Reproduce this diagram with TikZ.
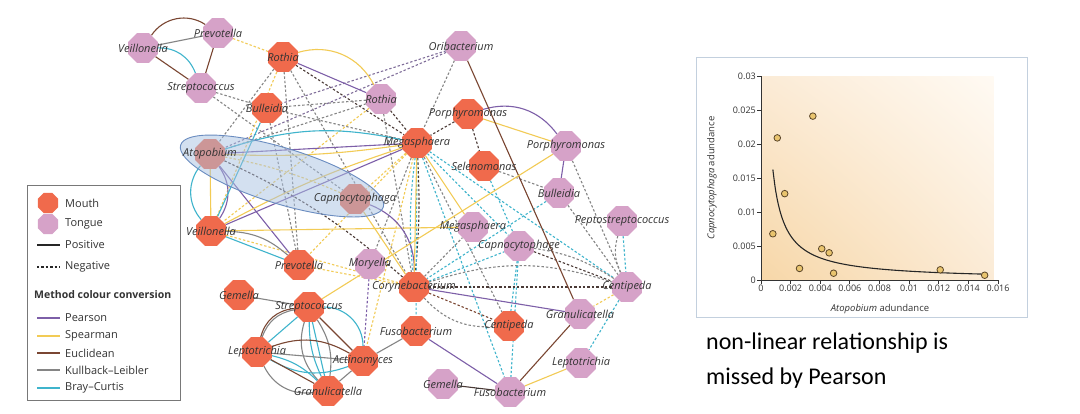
\documentclass[tikz,border=0pt]{standalone}
\usepackage{fontspec}
\setmainfont{Open Sans}
\newfontfamily\calib{Carlito}
\usetikzlibrary{shapes.geometric,shadings}
\pgfdeclarelayer{bg}\pgfsetlayers{bg,main}
\definecolor{mouthc}{HTML}{F06A4C}
\definecolor{tonguec}{HTML}{D6A2C8}
\definecolor{pear}{HTML}{7D5FA8}
\definecolor{spear}{HTML}{F2CB55}
\definecolor{eucl}{HTML}{7A4632}
\definecolor{kl}{HTML}{858585}
\definecolor{bray}{HTML}{3FB4CC}
\definecolor{dkd}{HTML}{4A3A36}
\definecolor{lbl}{HTML}{333333}
\definecolor{ellf}{HTML}{A9C2E2}
\definecolor{elld}{HTML}{6A8CC0}
\definecolor{shA}{HTML}{F7D7A8}
\definecolor{shB}{HTML}{FBEBD6}
\definecolor{shC}{HTML}{FFFAF3}
\definecolor{ptf}{HTML}{E9C46E}
\definecolor{ptd}{HTML}{5A4528}
\definecolor{frm}{HTML}{C3D0DE}
\tikzset{
  mouth/.style={regular polygon, regular polygon sides=8, minimum size=32pt, inner sep=0pt, fill=mouthc, draw=none},
  tongue/.style={regular polygon, regular polygon sides=8, minimum size=32pt, inner sep=0pt, fill=tonguec, draw=none},
  nlab/.style={font=\fontsize{11}{13}\selectfont\itshape, text=lbl, inner sep=0pt},
  every label/.style={nlab},
  se/.style={line width=1.1pt},
  de/.style={line width=1.1pt, dash pattern=on 2.4pt off 2pt},
  legtxt/.style={font=\fontsize{11}{13}\selectfont, text=lbl, anchor=west, inner sep=0pt},
  tick/.style={font=\fontsize{9}{10}\selectfont, text=lbl, inner sep=1pt},
}
\begin{document}
\begin{tikzpicture}[x=1pt,y=-1pt]
\useasboundingbox (0,0) rectangle (1080,413);
% ---------- tongue nodes
\node[tongue, label={center:Veillonella}] (vT) at (143,48) {};
\node[tongue, label={center:Prevotella}] (pT) at (218,33) {};
\node[tongue, label={center:Streptococcus}] (sT) at (201,88) {};
\node[tongue, label={center:Rothia}] (rT) at (381,99) {};
\node[tongue, label={center:Oribacterium}] (oT) at (461,46) {};
\node[tongue, label={center:Porphyromonas}] (phT) at (566,146) {};
\node[tongue, label={center:Bulleidia}] (bT) at (559,193) {};
\node[tongue, label={center:Peptostreptococcus}] (psT) at (622,221) {};
\node[tongue, label={center:Megasphaera}] (mT) at (473,227) {};
\node[tongue, label={center:Capnocytophage}] (cT) at (519,246) {};
\node[tongue, label={center:Centipeda}] (ceT) at (627,287) {};
\node[tongue, label={center:Granulicatella}] (gT) at (580,314) {};
\node[tongue, label={center:Leptotrichia}] (lT) at (581,363) {};
\node[tongue, label={center:Fusobacterium}] (fT) at (510,392) {};
\node[tongue, label={center:Gemella}] (geT) at (443,384) {};
\node[tongue, label={center:Moryella}] (moT) at (370,264) {};
% ---------- mouth nodes
\node[mouth, label={center:Rothia}] (rM) at (283,57) {};
\node[mouth, label={center:Bulleidia}] (bM) at (267,108) {};
\node[mouth, label={center:Porphyromonas}] (phM) at (468,114) {};
\node[mouth, label={center:Megasphaera}] (mM) at (417,143) {};
\node[mouth, label={center:Selenomonas}] (seM) at (484,166) {};
\node[mouth] (aM) at (210,154) {};
\node[mouth] (cM) at (355,199) {};
\node[mouth, label={center:Veillonella}] (vM) at (211,231) {};
\node[mouth, label={center:Prevotella}] (pM) at (299,265) {};
\node[mouth, label={center:Corynebacterium}] (coM) at (414,287) {};
\node[mouth, label={center:Gemella}] (geM) at (239,295) {};
\node[mouth, label={center:Streptococcus}] (sM) at (309,307) {};
\node[mouth, label={center:Leptotrichia}] (lM) at (257,352) {};
\node[mouth, label={center:Actinomyces}] (acM) at (363,361) {};
\node[mouth, label={center:Granulicatella}] (gM) at (328,391) {};
\node[mouth, label={center:Fusobacterium}] (fM) at (416,331) {};
\node[mouth, label={center:Centipeda}] (ceM) at (509,326) {};
% ---------- connectors
\begin{pgfonlayer}{bg}
\fill[white] (0,0) rectangle (1080,413);
% negative (dashed)
\draw[de, spear] (pT) -- (rM);
\draw[de, kl] (sT) -- (bM);
\draw[de, kl] (sT) -- (cM);
\draw[de, dkd] (rM) -- (mM);
\draw[de, kl] (rM) -- (aM);
\draw[de, spear] (rM) -- (vM);
\draw[de, kl] (rM) -- (pM);
\draw[de, kl] (rM) -- (coM);
\draw[de, kl] (rT) -- (aM);
\draw[de, spear] (rT) -- (vM);
\draw[de, kl] (rT) -- (bM);
\draw[de, kl] (rT) -- (coM);
\draw[de, dkd] (rT) -- (mM);
\draw[de, pear!60!kl] (oT) -- (bM);
\draw[de, pear!60!kl] (oT) -- (aM);
\draw[de, kl] (oT) -- (mM);
\draw[de, dkd] (phM) -- (mM);
\draw[de, dkd] (phM) -- (seM);
\draw[de, kl] (bM) -- (mM);
\draw[de, kl] (bM) -- (pM);
\draw[de, dkd] (mM) to[bend left=4] (coM);
\draw[de, bray] (mM) to[bend right=6] (coM);
\draw[de, bray] (mM) -- (fM);
\draw[de, bray] (mM) -- (fT);
\draw[de, kl] (mM) -- (ceM);
\draw[de, bray] (mM) -- (cT);
\draw[de, spear] (mM) -- (acM);
\draw[de, kl] (mM) -- (moT);
\draw[de, spear] (mM) -- (pM);
\draw[de, spear] (mM) -- (cM);
\draw[de, bray] (mM) -- (ceT);
\draw[de, kl] (seM) -- (bT);
\draw[de, bray] (seM) -- (cT);
\draw[de, bray] (bT) -- (coM);
\draw[de, kl] (bT) -- (ceT);
\draw[de, kl] (phT) -- (ceT);
\draw[de, bray] (psT) -- (ceT);
\draw[de, kl] (psT) to[bend right=20] (ceT);
\draw[de, kl] (cT) to[bend left=12] (ceT);
\draw[de, dkd] (cT) -- (ceT);
\draw[de, bray] (cT) -- (fT);
\draw[de, bray] (cT) -- (ceM);
\draw[de, bray] (coM) -- (cT);
\draw[de, dkd] (coM) -- (ceT);
\draw[de, kl] (coM) to[bend left=18] (ceT);
\draw[de, kl] (coM) to[bend right=25] (ceM);
\draw[de, eucl] (coM) -- (ceM);
\draw[de, kl] (coM) -- (mT);
\draw[de, bray] (ceT) -- (lT);
\draw[de, spear] (ceT) -- (gT);
\draw[de, pear] (moT) -- (acM);
\draw[de, dkd] (aM) to[bend left=8] (coM);
\draw[de, spear] (pM) -- (coM);
\draw[de, spear] (vM) -- (coM);
\draw[de, spear] (aM) to[bend left=6] (cM);
% positive (solid)
\draw[se, kl] (vT) -- (pT);
\draw[se, eucl] (vT) to[bend left=45] (pT);
\draw[se, eucl] (vT) -- (sT);
\draw[se, bray] (vT) to[bend left=35] (sT);
\draw[se, eucl] (pT) -- (sT);
\draw[se, pear] (rM) -- (rT);
\draw[se, spear] (rM) to[bend left=40] (rT);
\draw[se, spear] (phM) -- (phT);
\draw[se, pear] (phM) to[bend left=35] (phT);
\draw[se, pear] (phT) -- (bT);
\draw[se, eucl] (oT) -- (gT);
\draw[se, pear] (aM) -- (mM);
\draw[se, bray] (aM) to[bend left=15] (mM);
\draw[se, spear] (aM) to[bend right=5] (mM);
\draw[se, spear] (aM) -- (vM);
\draw[se, bray] (aM) to[bend right=40] (vM);
\draw[se, pear] (aM) to[bend left=35] (vM);
\draw[se, pear] (aM) -- (pM);
\draw[se, pear] (vM) -- (mM);
\draw[se, spear] (vM) to[bend left=5] (mM);
\draw[se, spear] (vM) -- (mT);
\draw[se, bray] (vM) -- (pM);
\draw[se, bray] (vM) -- (bM);
\draw[se, kl] (vM) to[bend left=20] (pM);
\draw[se, spear] (cM) -- (coM);
\draw[se, pear] (cM) to[bend left=35] (coM);
\draw[se, spear] (mM) -- (coM);
\draw[se, spear] (mM) -- (mT);
\draw[se, spear] (phT) -- (sM);
\draw[se, pear] (coM) -- (gT);
\draw[se, pear] (fM) -- (fT);
\draw[se, kl] (fM) -- (acM);
\draw[se, eucl] (gT) -- (fT);
\draw[se, spear] (lT) -- (fT);
\draw[se, dkd] (geT) -- (fT);
\draw[se, kl] (geM) -- (sM);
\draw[se, eucl] (sM) to[bend right=35] (lM);
\draw[se, bray] (sM) -- (lM);
\draw[se, eucl] (sM) -- (acM);
\draw[se, bray] (sM) to[bend left=45] (acM);
\draw[se, bray] (sM) -- (gM);
\draw[se, bray] (sM) to[bend right=12] (gM);
\draw[se, kl] (sM) to[bend right=30] (gM);
\draw[se, kl] (sM) to[bend left=20] (gM);
\draw[se, eucl] (lM) to[bend left=25] (acM);
\draw[se, kl] (lM) -- (acM);
\draw[se, bray] (lM) to[bend right=25] (acM);
\draw[se, eucl] (lM) -- (gM);
\draw[se, kl] (lM) to[bend right=35] (gM);
\draw[se, bray] (lM) to[bend left=15] (gM);
\draw[se, kl] (acM) -- (gM);
\draw[se, kl] (lM) to[bend left=30] (sM);
\end{pgfonlayer}
% highlight ellipse
\draw[fill=ellf, fill opacity=0.5, draw=elld, line width=0.9pt, rotate around={-17:(282,176)}] (282,176) ellipse [x radius=106pt, y radius=28pt];
\node[nlab] (aMl) at (aM) {Atopobium};
\node[nlab] (cMl) at (cM) {Capnocytophaga};
% ---------- legend
\draw[kl!90!black, line width=0.9pt] (27,185) rectangle (180,400);
\node[mouth, minimum size=22pt] (lgm) at (48,203) {};
\node[tongue, minimum size=22pt] (lgt) at (48,224) {};
\node[legtxt] (lgmt) at (65,203) {Mouth};
\node[legtxt] (lgtt) at (65,224) {Tongue};
\draw[line width=1.2pt, black!85] (37,245) -- (60,245);
\node[legtxt] (lgp) at (65,245) {Positive};
\draw[line width=1.2pt, black!85, dash pattern=on 2.4pt off 2pt] (37,267) -- (60,267);
\node[legtxt] (lgn) at (65,267) {Negative};
\node[legtxt, font=\fontsize{10.5}{12}\selectfont\bfseries] (lgh) at (34,295) {Method colour conversion};
\draw[line width=1.2pt, pear] (37,318) -- (60,318);
\node[legtxt] (l1) at (65,318) {Pearson};
\draw[line width=1.2pt, spear] (37,336) -- (60,336);
\node[legtxt] (l2) at (65,336) {Spearman};
\draw[line width=1.2pt, eucl] (37,353) -- (60,353);
\node[legtxt] (l3) at (65,353) {Euclidean};
\draw[line width=1.2pt, kl] (37,370) -- (60,370);
\node[legtxt] (l4) at (65,370) {Kullback–Leibler};
\draw[line width=1.2pt, bray] (37,388) -- (60,388);
\node[legtxt] (l5) at (65,388) {Bray–Curtis};
% ---------- scatter plot panel
\draw[frm, line width=1pt, fill=white] (696,57) rectangle (1027,317);
\begin{scope}[shift={(761,280)}, x=14.8125pt, y=6.8pt]
\shade[lower left=shA, upper left=shB, lower right=shB, upper right=shC] (0,0) rectangle (15.7,30);
\draw[lbl, line width=0.8pt] (0,30) -- (0,0) -- (16,0);
\foreach \v/\t in {0/0,5/0.005,10/0.01,15/0.015,20/0.02,25/0.025,30/0.03}
  {\draw[lbl, line width=0.8pt] (0,\v) -- ++(-4pt,0pt); \node[tick, anchor=east] at ([xshift=-4pt]0,\v) {\t};}
\foreach \v/\t in {0/0,2/0.002,4/0.004,6/0.006,8/0.008,10/0.01,12/0.012,14/0.014,16/0.016}
  {\draw[lbl, line width=0.8pt] (\v,0) -- ++(0pt,-4pt); \node[tick, anchor=north] at ([yshift=-4pt]\v,0) {\t};}
\draw[line width=1.1pt, black!85] plot[domain=0.8:15.1, samples=90, smooth] (\x, {13/\x});
\foreach \px/\py in {0.8/6.8, 1.1/20.9, 1.6/12.7, 2.6/1.7, 3.5/24.1, 4.1/4.6, 4.6/4.0, 4.9/1.0, 12.1/1.5, 15.1/0.7}
  \draw[fill=ptf, draw=ptd, line width=0.8pt] (\px,\py) circle[radius=3.3pt];
\end{scope}
\node[font=\fontsize{9.5}{11}\selectfont, text=lbl] (xlab) at (880,309) {\textit{Atopobium} adundance};
\node[font=\fontsize{9.5}{11}\selectfont, text=lbl, rotate=90] (ylab) at (712,178) {\textit{Capnocytophaga} adundance};
% ---------- caption
\node[font=\calib\fontsize{24}{35}\selectfont, anchor=north west, align=left, inner sep=0pt, text=black] (cap) at (706,333) {non-linear relationship is\\missed by Pearson};
\end{tikzpicture}
\end{document}
